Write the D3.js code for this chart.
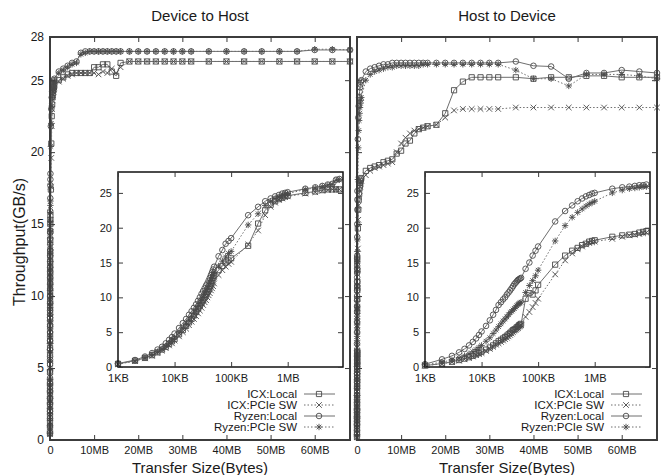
<!DOCTYPE html>
<html lang="en">
<head>
<meta charset="UTF-8">
<title>Transfer throughput</title>
<script src="https://d3js.org/d3.v7.min.js"></script>
<style>
  body { margin: 0; background: #fff; font-family: "Liberation Sans", Arial, sans-serif; }
  svg text { fill: #1a1a1a; }
</style>
</head>
<body>
<div id="chart"></div>
<script>
    // transfer sizes in KB (1MB = 1024KB)
    const sizesKB = [1, 2, 3, 4, 5, 6, 7, 8, 9, 10,
        12, 14, 16, 18, 20, 22, 24, 26, 28, 30, 32, 34, 36, 38, 40, 42, 44, 46, 48, 50,
        60, 70, 80, 90, 100,
        200, 300, 400, 500, 600, 700, 800, 900, 1000,
        2048, 3072, 4096, 5120, 6144, 7168, 8192, 9216, 10240, 11264, 12288, 13312, 14336, 15360, 16384,
        18432, 20480, 22528, 24576, 26624, 28672, 30720, 32768,
        36864, 40960, 45056, 49152, 53248, 57344, 61440, 65536, 69632];

    const seriesNames = ['ICX:Local', 'ICX:PCIe SW', 'Ryzen:Local', 'Ryzen:PCIe SW'];

    // Device to Host, GB/s
    const d2hIcxLocal = [0.45, 0.9, 1.3, 1.7, 2.1, 2.5, 2.9, 3.3, 3.7, 4.0,
        4.7, 5.3, 5.9, 6.4, 6.9, 7.4, 7.9, 8.4, 8.8, 9.2, 9.6, 10.0, 10.4, 10.8, 11.2, 11.6, 12.0, 12.4, 12.8, 13.1,
        13.9, 14.5, 15.0, 15.3, 15.6,
        17.4, 20.6, 22.5, 23.3, 23.8, 24.1, 24.3, 24.5, 24.6,
        25.0, 25.2, 25.4, 25.5, 25.5, 25.5, 25.5, 25.5, 25.9, 25.9, 26.1, 26.1, 25.6, 25.3, 26.2,
        26.3, 26.3, 26.3, 26.3, 26.3, 26.3, 26.3, 26.3,
        26.3, 26.3, 26.3, 26.3, 26.3, 26.3, 26.3, 26.3, 26.3];
    const d2hIcxPcie = [0.4, 0.85, 1.25, 1.6, 2.0, 2.35, 2.7, 3.1, 3.4, 3.8,
        4.4, 5.0, 5.5, 6.0, 6.5, 6.9, 7.3, 7.7, 8.1, 8.5, 8.9, 9.3, 9.6, 10.0, 10.3, 10.6, 11.0, 11.3, 11.6, 12.0,
        13.2, 13.9, 14.4, 14.8, 15.1,
        17.6, 19.6, 21.8, 23.0, 23.6, 24.0, 24.2, 24.4, 24.5,
        24.9, 25.1, 25.3, 25.4, 25.5, 25.5, 25.5, 25.5, 25.5, 25.4, 25.6, 25.5, 25.8, 25.5, 25.9,
        26.3, 26.3, 26.3, 26.3, 26.3, 26.3, 26.3, 26.3,
        26.3, 26.3, 26.3, 26.3, 26.3, 26.3, 26.3, 26.3, 26.3];
    const d2hRyzenLocal = [0.5, 1.0, 1.5, 2.0, 2.5, 2.9, 3.4, 3.9, 4.3, 4.8,
        5.6, 6.3, 6.9, 7.5, 8.0, 8.5, 9.0, 9.5, 10.0, 10.5, 10.9, 11.3, 11.7, 12.0, 12.4, 12.8, 13.2, 13.6, 14.0, 14.4,
        15.9, 16.8, 17.7, 18.1, 18.5,
        21.8, 23.0, 23.8, 24.2, 24.5, 24.7, 24.9, 25.0, 25.1,
        25.6, 25.8, 26.0, 26.2, 26.3, 26.9, 27.0, 27.0, 27.0, 27.0, 27.0, 27.0, 27.0, 27.0, 27.0,
        27.0, 27.0, 27.0, 27.0, 27.0, 27.0, 27.0, 27.0,
        27.0, 27.0, 27.0, 27.0, 27.0, 27.0, 27.1, 27.1, 27.1];
    const d2hRyzenPcie = [0.45, 0.9, 1.35, 1.8, 2.2, 2.6, 3.0, 3.4, 3.8, 4.2,
        4.9, 5.5, 6.1, 6.7, 7.2, 7.7, 8.2, 8.7, 9.2, 9.6, 10.0, 10.4, 10.8, 11.2, 11.6, 12.0, 12.4, 12.8, 13.2, 13.6,
        14.5, 15.2, 15.8, 16.3, 16.6,
        20.4, 22.0, 23.2, 23.8, 24.2, 24.4, 24.6, 24.8, 24.9,
        25.5, 25.7, 25.9, 26.1, 26.2, 26.8, 26.9, 27.0, 27.0, 27.0, 27.0, 27.0, 27.0, 27.0, 27.0,
        27.0, 27.0, 27.0, 27.0, 27.0, 27.0, 27.0, 27.0,
        27.0, 27.0, 27.0, 27.0, 27.0, 27.0, 27.15, 27.15, 27.1];

    // Host to Device, GB/s
    const h2dIcxLocal = [0.2, 0.5, 0.75, 1.0, 1.2, 1.4, 1.6, 1.8, 2.0, 2.2,
        2.5, 2.8, 3.1, 3.4, 3.7, 3.9, 4.1, 4.3, 4.5, 4.7, 4.9, 5.1, 5.3, 5.4, 5.5, 5.7, 5.8, 6.0, 6.1, 6.2,
        9.8, 10.6, 10.4, 11.0, 11.8,
        14.7, 16.0, 16.7, 17.1, 17.5, 17.7, 18.0, 18.1, 18.2,
        18.7, 18.9, 19.0, 19.1, 19.3, 19.4, 19.5, 19.9, 20.1, 20.6, 20.8, 21.3, 21.6, 21.7, 21.8,
        21.9, 22.7, 24.3, 24.9, 25.2, 25.2, 25.2, 25.2,
        25.2, 25.1, 25.2, 25.2, 25.3, 25.3, 25.2, 25.2, 25.2];
    const h2dIcxPcie = [0.2, 0.45, 0.7, 0.9, 1.1, 1.3, 1.5, 1.7, 1.85, 2.0,
        2.3, 2.6, 2.9, 3.2, 3.4, 3.6, 3.8, 4.0, 4.2, 4.4, 4.6, 4.8, 5.0, 5.2, 5.3, 5.5, 5.6, 5.8, 5.9, 6.0,
        7.2, 7.9, 8.6, 9.2, 9.8,
        13.3, 15.3, 16.3, 16.9, 17.3, 17.6, 17.8, 17.9, 18.0,
        18.4, 18.7, 18.9, 19.0, 19.1, 19.2, 19.3, 20.0, 20.6, 21.0, 21.3, 21.5, 21.6, 21.7, 21.8,
        21.9, 22.4, 22.9, 23.0, 23.0, 23.0, 23.0, 23.0,
        23.1, 23.1, 23.1, 23.1, 23.1, 23.1, 23.1, 23.1, 23.1];
    const h2dRyzenLocal = [0.4, 1.1, 1.6, 2.1, 2.6, 3.1, 3.6, 4.1, 4.6, 5.1,
        5.9, 6.7, 7.5, 8.2, 8.9, 9.3, 9.7, 10.0, 10.4, 10.7, 11.0, 11.3, 11.6, 11.9, 12.1, 12.3, 12.5, 12.6, 12.7, 12.8,
        14.1, 15.0, 16.0, 16.7, 17.3,
        20.9, 22.4, 23.2, 23.8, 24.2, 24.5, 24.7, 24.9, 25.0,
        25.6, 25.8, 25.9, 26.0, 26.1, 26.1, 26.2, 26.2, 26.2, 26.2, 26.2, 26.2, 26.2, 26.2, 26.2,
        26.2, 26.2, 26.2, 26.2, 26.2, 26.2, 26.2, 26.2,
        26.3, 26.0, 25.95, 25.1, 25.5, 25.5, 25.7, 25.6, 25.5];
    const h2dRyzenPcie = [0.3, 0.7, 1.0, 1.3, 1.6, 1.9, 2.2, 2.5, 2.8, 3.1,
        3.7, 4.2, 4.8, 5.3, 5.8, 6.2, 6.6, 6.9, 7.2, 7.5, 7.8, 8.0, 8.2, 8.4, 8.6, 8.8, 9.0, 9.1, 9.2, 9.3,
        10.7, 11.7, 12.4, 13.1, 13.9,
        18.1, 20.3, 21.5, 22.2, 22.7, 23.1, 23.4, 23.6, 23.8,
        25.0, 25.4, 25.6, 25.7, 25.8, 25.9, 25.9, 26.0, 26.0, 26.0, 26.0, 26.0, 26.0, 26.1, 26.1,
        26.1, 26.1, 26.1, 26.1, 26.1, 26.1, 26.1, 26.1,
        25.7, 25.1, 25.1, 24.6, 25.4, 25.4, 25.4, 25.3, 25.1];

    const mainXTicks = [0, 10, 20, 30, 40, 50, 60];   // MB
    const mainYTicks = [0, 5, 10, 15, 20, 25, 28];
    const insetXTicks = [1, 10, 100, 1000];           // KB
    const insetXLabels = ['1KB', '10KB', '100KB', '1MB'];
    const insetYTicks = [0, 5, 10, 15, 20, 25];

    const panels = [
        { title: 'Device to Host', left: 50, right: 350, yLabels: true,
          series: [d2hIcxLocal, d2hIcxPcie, d2hRyzenLocal, d2hRyzenPcie] },
        { title: 'Host to Device', left: 357, right: 657, yLabels: false,
          series: [h2dIcxLocal, h2dIcxPcie, h2dRyzenLocal, h2dRyzenPcie] }
    ];

    const styles = [
        { marker: 'square', dash: null },
        { marker: 'cross', dash: '1.5,2' },
        { marker: 'circle', dash: null },
        { marker: 'star', dash: '1.5,2' }
    ];

    const markerPaths = {
        square: 'M-2.6,-2.6h5.2v5.2h-5.2z',
        cross: 'M-2.8,-2.8L2.8,2.8M-2.8,2.8L2.8,-2.8',
        circle: 'M2.8,0A2.8,2.8 0 1,1 -2.8,0A2.8,2.8 0 1,1 2.8,0',
        star: 'M-3.2,0H3.2M0,-3.2V3.2M-2.3,-2.3L2.3,2.3M-2.3,2.3L2.3,-2.3'
    };

    const lineColor = '#6e6e6e', markColor = '#4a4a4a';
    const plotTop = 37, plotBottom = 440;
    const insetTop = 172, insetBottom = 367;

    const svg = d3.select('#chart').append('svg')
        .attr('width', 665)
        .attr('height', 475);

    function styleAxis(sel, size) {
        sel.select('.domain').remove();
        sel.attr('font-family', null).attr('font-size', size).attr('color', '#3a3a3a');
        sel.selectAll('.tick line').attr('stroke-width', 1);
    }

    function drawAxes(g, x, y, box, opts) {
        g.append('g')
            .attr('transform', `translate(0,${box.bottom})`)
            .call(d3.axisBottom(x).tickValues(opts.xTicks).tickFormat(opts.xFmt).tickSize(-5).tickPadding(opts.xPad))
            .call(a => styleAxis(a, opts.xSize));
        g.append('g')
            .attr('transform', `translate(0,${box.top})`)
            .call(d3.axisTop(x).tickValues(opts.xTicks).tickFormat('').tickSize(-5))
            .call(a => styleAxis(a, opts.xSize));
        g.append('g')
            .attr('transform', `translate(${box.left},0)`)
            .call(d3.axisLeft(y).tickValues(opts.yTicks).tickFormat(opts.yFmt).tickSize(-5).tickPadding(6))
            .call(a => styleAxis(a, opts.ySize));
        g.append('g')
            .attr('transform', `translate(${box.right},0)`)
            .call(d3.axisRight(y).tickValues(opts.yTicks).tickFormat('').tickSize(-5))
            .call(a => styleAxis(a, opts.ySize));
    }

    function drawSeries(g, points, x, y, style) {
        const line = d3.line().x(d => x(d[0])).y(d => y(d[1]));
        g.append('path')
            .datum(points)
            .attr('d', line)
            .attr('fill', 'none')
            .attr('stroke', lineColor)
            .attr('stroke-width', 1)
            .attr('stroke-dasharray', style.dash);
        g.selectAll(null)
            .data(points)
            .enter()
            .append('path')
            .attr('transform', d => `translate(${x(d[0])},${y(d[1])})`)
            .attr('d', markerPaths[style.marker])
            .attr('fill', 'none')
            .attr('stroke', markColor)
            .attr('stroke-width', 0.9);
    }

    panels.forEach(p => {
        const g = svg.append('g');
        const x = d3.scaleLinear().domain([0, 68]).range([p.left, p.right]);
        const y = d3.scaleLinear().domain([0, 28]).range([plotBottom, plotTop]);

        // main plot data
        p.series.forEach((vals, i) => {
            const pts = sizesKB.map((s, k) => [s / 1024, vals[k]]);
            drawSeries(g, pts, x, y, styles[i]);
        });

        g.append('rect')
            .attr('x', p.left).attr('y', plotTop)
            .attr('width', p.right - p.left).attr('height', plotBottom - plotTop)
            .attr('fill', 'none').attr('stroke', '#3c3c3c').attr('stroke-width', 2);

        drawAxes(g, x, y, { left: p.left, right: p.right, top: plotTop, bottom: plotBottom }, {
            xTicks: mainXTicks, xFmt: d => d === 0 ? '0' : d + 'MB', xSize: 11, xPad: 6,
            yTicks: mainYTicks, yFmt: p.yLabels ? d3.format('d') : '', ySize: 12
        });

        g.append('text')
            .attr('x', (p.left + p.right) / 2).attr('y', 21)
            .attr('text-anchor', 'middle').attr('font-size', 15)
            .text(p.title);

        g.append('text')
            .attr('x', (p.left + p.right) / 2).attr('y', 473)
            .attr('text-anchor', 'middle').attr('font-size', 15)
            .text('Transfer Size(Bytes)');

        // inset, log scale
        const ib = { left: p.left + 68, right: p.right - 7, top: insetTop, bottom: insetBottom };
        const gi = svg.append('g');
        gi.append('rect')
            .attr('x', ib.left).attr('y', ib.top)
            .attr('width', ib.right - ib.left).attr('height', ib.bottom - ib.top)
            .attr('fill', '#fff');
        const xi = d3.scaleLog().domain([1, 9500]).range([ib.left, ib.right]);
        const yi = d3.scaleLinear().domain([0, 28]).range([ib.bottom, ib.top]);

        p.series.forEach((vals, i) => {
            const pts = sizesKB.map((s, k) => [s, vals[k]]).filter(d => d[0] <= 8192);
            drawSeries(gi, pts, xi, yi, styles[i]);
        });

        gi.append('rect')
            .attr('x', ib.left).attr('y', ib.top)
            .attr('width', ib.right - ib.left).attr('height', ib.bottom - ib.top)
            .attr('fill', 'none').attr('stroke', '#111').attr('stroke-width', 1.5);

        drawAxes(gi, xi, yi, ib, {
            xTicks: insetXTicks, xFmt: (d, i) => insetXLabels[i], xSize: 11, xPad: 7,
            yTicks: insetYTicks, yFmt: d3.format('d'), ySize: 11
        });

        // legend
        const lg = svg.append('g');
        seriesNames.forEach((name, i) => {
            const yy = 398 + i * 11;
            lg.append('text')
                .attr('x', p.right - 53).attr('y', yy)
                .attr('text-anchor', 'end').attr('font-size', 11.5)
                .text(name);
            lg.append('line')
                .attr('x1', p.right - 46).attr('x2', p.right - 15)
                .attr('y1', yy - 4).attr('y2', yy - 4)
                .attr('stroke', lineColor).attr('stroke-width', 1)
                .attr('stroke-dasharray', styles[i].dash);
            lg.append('path')
                .attr('transform', `translate(${p.right - 31},${yy - 4})`)
                .attr('d', markerPaths[styles[i].marker])
                .attr('fill', 'none').attr('stroke', markColor).attr('stroke-width', 0.9);
        });
    });

    svg.append('text')
        .attr('transform', 'translate(25,242) rotate(-90)')
        .attr('text-anchor', 'middle').attr('font-size', 16)
        .text('Throughput(GB/s)');
</script>
</body>
</html>
